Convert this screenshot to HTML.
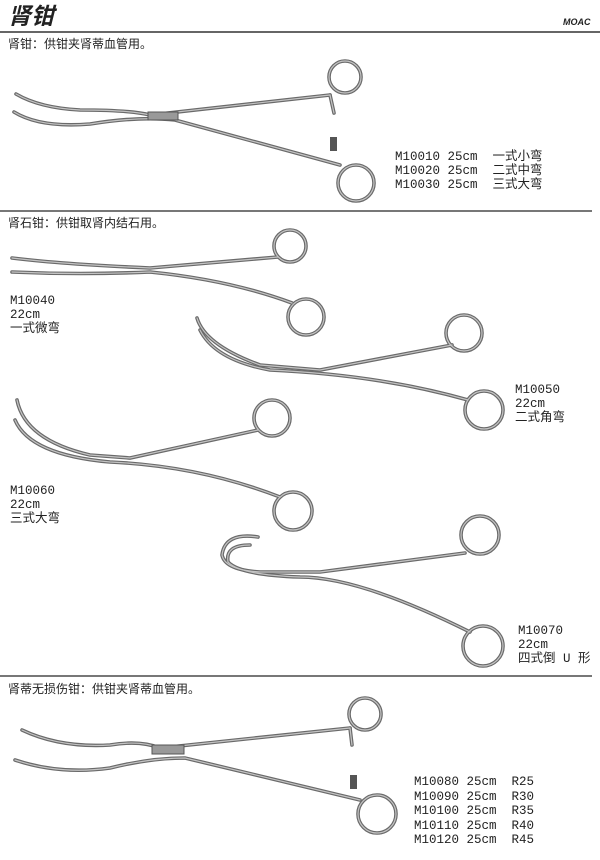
<!DOCTYPE html>
<html><head><meta charset="utf-8"><style>
body{margin:0;background:#fff;}
.p{position:relative;width:600px;height:860px;overflow:hidden;font-family:"Liberation Sans","Noto Sans CJK SC",sans-serif;color:#222;}
.t{position:absolute;font-size:12px;line-height:14px;white-space:pre;}
.m{font-family:"Liberation Mono","Noto Sans CJK SC",monospace;font-size:12.5px;line-height:14px;}
</style></head><body><div class="p">
<div class="t" style="left:8px;top:2px;font-size:23px;line-height:28px;font-weight:bold;font-style:italic">肾钳</div>
<div class="t" style="left:563px;top:15px;font-size:9px;font-weight:bold;font-style:italic">MOAC</div>
<div style="position:absolute;left:0;top:31px;width:600px;height:2px;background:#666"></div>
<div class="t" style="left:8px;top:37px">肾钳：供钳夹肾蒂血管用。</div>
<div class="t m" style="left:395px;top:150px">M10010 25cm  一式小弯
M10020 25cm  二式中弯
M10030 25cm  三式大弯</div>
<div style="position:absolute;left:0;top:210px;width:592px;height:2px;background:#777"></div>
<div class="t" style="left:8px;top:216px">肾石钳：供钳取肾内结石用。</div>
<div class="t m" style="left:10px;top:294px">M10040
22cm
一式微弯</div>
<div class="t m" style="left:515px;top:383px">M10050
22cm
二式角弯</div>
<div class="t m" style="left:10px;top:484px">M10060
22cm
三式大弯</div>
<div class="t m" style="left:518px;top:624px">M10070
22cm
四式倒 U 形</div>
<div style="position:absolute;left:0;top:675px;width:592px;height:2px;background:#777"></div>
<div class="t" style="left:8px;top:682px">肾蒂无损伤钳：供钳夹肾蒂血管用。</div>
<div class="t m" style="left:414px;top:775px;line-height:14.5px">M10080 25cm  R25
M10090 25cm  R30
M10100 25cm  R35
M10110 25cm  R40
M10120 25cm  R45</div>
<svg width="600" height="860" style="position:absolute;left:0;top:0" fill="none" stroke-linecap="round">
<defs>
<g id="all">
<path d="M16 94 Q40 108 80 110 Q130 110 150 115 L330 95"/>
<path d="M14 112 Q40 128 90 124 Q140 116 175 120 L340 165"/>
<circle cx="345" cy="77" r="16"/><circle cx="356" cy="183" r="18"/>
<path d="M330 95 L334 113"/>
<path d="M12 258 Q60 264 150 268 L278 257"/>
<path d="M12 272 Q80 275 150 272 Q230 280 292 303"/>
<circle cx="290" cy="246" r="16"/><circle cx="306" cy="317" r="18"/>
<path d="M197 318 Q205 345 260 365 L320 370 L452 345"/>
<path d="M200 330 Q215 360 270 370 Q380 375 468 400"/>
<circle cx="464" cy="333" r="18"/><circle cx="484" cy="410" r="19"/>
<path d="M17 400 Q25 440 90 455 L130 458 L258 430"/>
<path d="M15 420 Q30 455 110 462 Q200 466 280 497"/>
<circle cx="272" cy="418" r="18"/><circle cx="293" cy="511" r="19"/>
<path d="M258 537 Q225 532 222 555 Q225 570 260 572 L320 572 L465 553"/>
<path d="M250 545 Q225 545 228 562 Q240 575 300 577 Q360 577 470 632"/>
<circle cx="480" cy="535" r="19"/><circle cx="483" cy="646" r="20"/>
<path d="M22 730 Q60 748 110 745 Q140 740 160 748 L350 728"/>
<path d="M15 760 Q60 775 110 768 Q150 758 185 758 L360 800"/>
<circle cx="365" cy="714" r="16"/><circle cx="377" cy="814" r="19"/>
<path d="M350 728 L352 745"/>
</g>
</defs>
<use href="#all" stroke="#6a6a6a" stroke-width="3.6"/>
<use href="#all" stroke="#c4c4c4" stroke-width="1.2"/>
<rect x="148" y="112" width="30" height="8" fill="#999" stroke="#555"/>
<rect x="152" y="745" width="32" height="9" fill="#999" stroke="#555"/>
<g fill="#555"><rect x="330" y="137" width="7" height="14"/><rect x="350" y="775" width="7" height="14"/></g>
</svg>
</div></body></html>
